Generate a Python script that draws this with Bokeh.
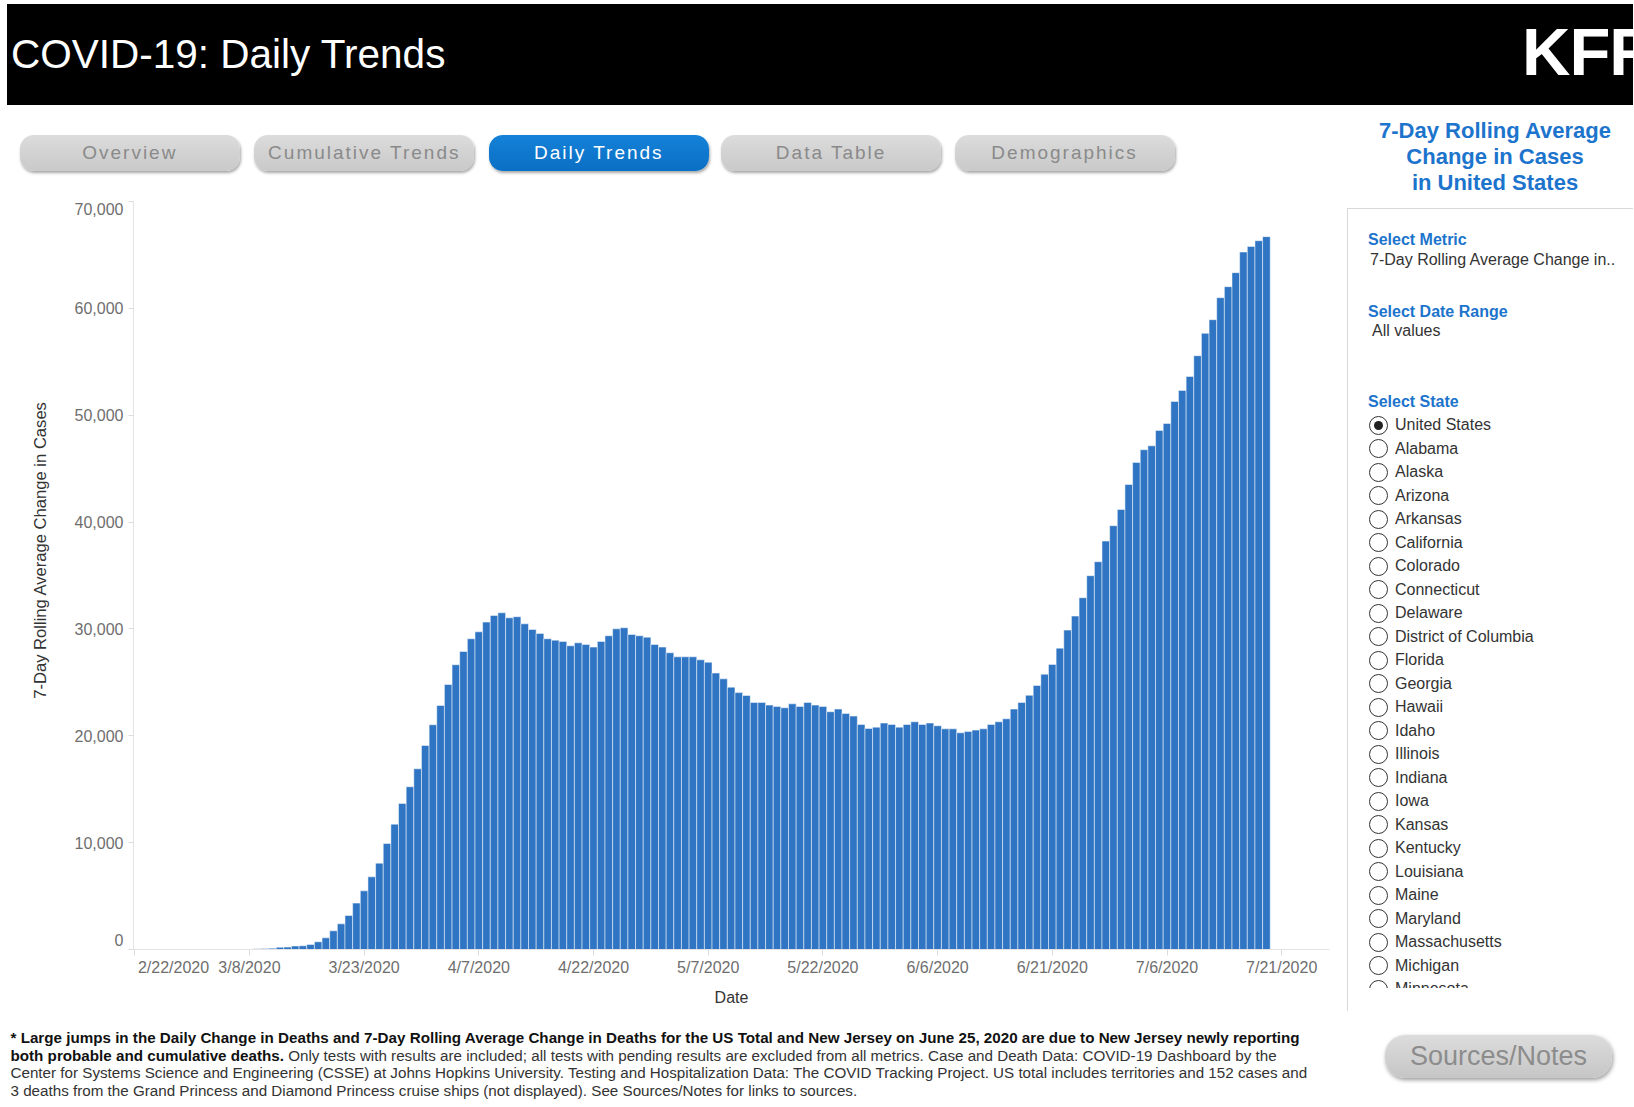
import pandas as pd
from bokeh.plotting import figure
from bokeh.models import ColumnDataSource, Range1d, FixedTicker, Div, LinearAxis, Title
from bokeh.layouts import column, row
from bokeh.embed import file_html
from bokeh.resources import INLINE

# ---------------- data ----------------
dates = pd.date_range("2020-02-22", "2020-07-19", freq="D")

# 7-day rolling average change in cases, 2/22 .. 3/8 (too small to see)
values_feb_mar8 = [1, 1, 2, 2, 3, 3, 4, 5, 6, 8, 11, 15, 21, 28, 38, 52]
# 3/9 .. 7/19
values_mar9_jul19 = [
    70, 95, 120, 210, 225, 330, 350, 470, 720, 1090,
    1750, 2400, 3180, 4340, 5490, 6800, 8080, 9920, 11730, 13670,
    15230, 16910, 19090, 21030, 22840, 24800, 26650, 27890, 29080, 29730,
    30640, 31260, 31510, 31040, 31140, 30480, 29950, 29580, 29080, 28950,
    28830, 28420, 28700, 28550, 28300, 28830, 29360, 30010, 30110, 29480,
    29360, 29230, 28550, 28300, 27770, 27390, 27390, 27390, 27110, 26880,
    25870, 25330, 24550, 24040, 23770, 23120, 23120, 22870, 22750, 22620,
    22990, 22750, 23120, 22870, 22750, 22250, 22500, 22090, 21840, 21060,
    20690, 20810, 21190, 21060, 20810, 21060, 21310, 21060, 21190, 20940,
    20650, 20650, 20280, 20410, 20530, 20650, 21060, 21310, 21590, 22500,
    23120, 23790, 24710, 25760, 26680, 28200, 29890, 31200, 32920, 34980,
    36290, 38220, 39660, 41180, 43520, 45580, 46770, 47140, 48580, 49230,
    51290, 52320, 53630, 55570, 57660, 58940, 61000, 62030, 63340, 65270,
    65800, 66330, 66710,
]
values = values_feb_mar8 + values_mar9_jul19

x_tick_labels = ["2/22/2020", "3/8/2020", "3/23/2020", "4/7/2020", "4/22/2020",
                 "5/7/2020", "5/22/2020", "6/6/2020", "6/21/2020", "7/6/2020", "7/21/2020"]
y_ticks = [0, 10000, 20000, 30000, 40000, 50000, 60000, 70000]
y_tick_labels = ["0", "10,000", "20,000", "30,000", "40,000", "50,000", "60,000", "70,000"]

tabs = ["Overview", "Cumulative Trends", "Daily Trends", "Data Table", "Demographics"]
active_tab = "Daily Trends"
states = ["United States", "Alabama", "Alaska", "Arizona", "Arkansas", "California",
          "Colorado", "Connecticut", "Delaware", "District of Columbia", "Florida",
          "Georgia", "Hawaii", "Idaho", "Illinois", "Indiana", "Iowa", "Kansas",
          "Kentucky", "Louisiana", "Maine", "Maryland", "Massachusetts", "Michigan",
          "Minnesota"]

title = "COVID-19: Daily Trends"
y_title = "7-Day Rolling Average Change in Cases"
x_title = "Date"

day_index = [(d - dates[0]).days for d in dates]
tick_days = [(pd.Timestamp(t) - dates[0]).days for t in x_tick_labels]

src = ColumnDataSource(dict(day=day_index, value=values))

FONT = "Liberation Sans"
BAR = "#2f75c3"
LABEL_GRAY = "#6e6e6e"

# ---------------- chart ----------------
FRAME_W, FRAME_H = 1196, 748
x0, x1 = -0.16, 156.25
y0, y1 = 0, 70000
p = figure(frame_width=FRAME_W, frame_height=FRAME_H,
           x_range=Range1d(x0, x1), y_range=Range1d(y0, y1),
           output_backend="svg", toolbar_location=None,
           min_border_left=126, min_border_right=13, min_border_top=11, min_border_bottom=62,
           outline_line_color=None, background_fill_color="white",
           border_fill_color="white", margin=0)

p.vbar(x="day", top="value", width=1.0, bottom=0, source=src,
       fill_color=BAR, line_color="white", line_width=0.9, line_alpha=0.55)

p.xgrid.visible = False
p.ygrid.visible = False

# axes carrying the line and tick marks (labels hidden)
for ax in (p.xaxis[0], p.yaxis[0]):
    ax.axis_line_color = "#e4e4e4"
    ax.major_tick_line_color = "#dcdcdc"
    ax.major_tick_in = 0
    ax.minor_tick_line_color = None
    ax.major_label_text_font_size = "0px"
    ax.major_label_standoff = 0
p.xaxis.ticker = FixedTicker(ticks=tick_days)
p.xaxis.major_label_overrides = {d: "" for d in tick_days}
p.xaxis.major_tick_out = 6
p.yaxis.ticker = FixedTicker(ticks=y_ticks)
p.yaxis.major_label_overrides = {t: "" for t in y_ticks}
p.yaxis.major_tick_out = 5

# label axes: end labels nudged inside the axis extent, like the original
px_per_day = FRAME_W / (x1 - x0)
px_per_unit = FRAME_H / (y1 - y0)
x_label_pos = list(tick_days)
x_label_pos[0] = round(tick_days[0] + 38.8 / px_per_day, 2)
y_label_pos = list(y_ticks)
y_label_pos[0] = round(y_ticks[0] + 9.7 / px_per_unit)
y_label_pos[-1] = round(y_ticks[-1] - 7.7 / px_per_unit)

xlab = LinearAxis(ticker=FixedTicker(ticks=x_label_pos),
                  major_label_overrides={pos: lab for pos, lab in zip(x_label_pos, x_tick_labels)},
                  axis_line_color=None, major_tick_line_color=None, minor_tick_line_color=None,
                  major_tick_out=0, major_tick_in=0, major_label_standoff=3,
                  major_label_text_font=FONT, major_label_text_font_size="16px",
                  major_label_text_color=LABEL_GRAY,
                  axis_label=x_title, axis_label_text_font=FONT, axis_label_text_font_size="16px",
                  axis_label_text_font_style="normal", axis_label_text_color="#333333",
                  axis_label_standoff=10)
p.add_layout(xlab, "below")

ylab = LinearAxis(ticker=FixedTicker(ticks=y_label_pos),
                  major_label_overrides={pos: lab for pos, lab in zip(y_label_pos, y_tick_labels)},
                  axis_line_color=None, major_tick_line_color=None, minor_tick_line_color=None,
                  major_tick_out=0, major_tick_in=0, major_label_standoff=5,
                  major_label_text_font=FONT, major_label_text_font_size="16px",
                  major_label_text_color=LABEL_GRAY)
p.add_layout(ylab, "left")

# vertical title, anchored at its lower end (250.7 px above the baseline)
p.add_layout(Title(text=y_title, align="left", offset=250.7, vertical_align="middle",
                   standoff=41, text_font=FONT, text_font_size="16.6px",
                   text_font_style="normal", text_color="#333333"), "left")

# ---------------- page pieces ----------------
BASE = "font-family:'Liberation Sans',Arial,sans-serif;"
PAGE_W = 1626
LEFT_W = 1335
SIDE_W = PAGE_W - LEFT_W

header = Div(text=f"""
<div style="position:relative;width:{PAGE_W}px;height:101px;background:#000;overflow:hidden;{BASE}">
  <div style="position:absolute;left:4px;top:30px;font-size:40.5px;line-height:40px;color:#fff;white-space:nowrap;">{title}</div>
  <div style="position:absolute;left:1515px;top:14px;font-size:67px;line-height:67px;font-weight:bold;color:#fff;
       font-family:'Liberation Sans Narrow','Liberation Sans',sans-serif;letter-spacing:-1px;white-space:nowrap;">KFF</div>
</div>""", width=PAGE_W, height=101, margin=0)

btn_x = [12.8, 247.3, 481.8, 714.1, 947.6]
btn_html = ""
for bx, name in zip(btn_x, tabs):
    if name == active_tab:
        bg = "linear-gradient(#1482d8,#0a6fc4)"
        col = "#ffffff"
    else:
        bg = "linear-gradient(#dcdcdc,#c9c9c9)"
        col = "#8a8a8a"
    btn_html += (f'<div style="position:absolute;left:{bx}px;top:30px;width:220px;height:36px;'
                 f'border-radius:14px;background:{bg};box-shadow:1px 2px 3px rgba(0,0,0,0.35);color:{col};'
                 f'font-size:19px;letter-spacing:2px;line-height:36px;text-align:center;white-space:nowrap;">{name}</div>')
buttons = Div(text=f'<div style="position:relative;width:{LEFT_W}px;height:85px;{BASE}">{btn_html}</div>',
              width=LEFT_W, height=85, margin=0)

BLUE = "#1c74cc"
radio_html = ""
for i, s in enumerate(states):
    cy = 320 + 23.5 * i
    dot = ('<div style="position:absolute;left:4px;top:4px;width:9px;height:9px;border-radius:50%;background:#222;"></div>'
           if i == 0 else "")
    radio_html += (f'<div style="position:absolute;left:27px;top:{cy - 9.5:.1f}px;width:17px;height:17px;'
                   f'border:1.3px solid #333;border-radius:50%;box-sizing:content-box;">{dot}</div>'
                   f'<div style="position:absolute;left:53px;top:{cy - 10:.1f}px;line-height:20px;font-size:16px;'
                   f'color:#333;white-space:nowrap;">{s}</div>')

side_title = ["7-Day Rolling Average", "Change in Cases", "in United States"]
title_html = ""
for j, t in enumerate(side_title):
    title_html += (f'<div style="position:absolute;left:153px;top:{13 + 26 * j}px;transform:translateX(-50%);'
                   f'font-size:22px;line-height:26px;font-weight:bold;color:{BLUE};white-space:nowrap;">{t}</div>')


def side_text(x, cy, txt, bold=False):
    w = "bold" if bold else "normal"
    c = BLUE if bold else "#333"
    return (f'<div style="position:absolute;left:{x}px;top:{cy - 10}px;line-height:20px;font-size:16px;'
            f'font-weight:{w};color:{c};white-space:nowrap;">{txt}</div>')


side = Div(text=f"""
<div style="position:relative;width:{SIDE_W}px;height:906px;overflow:hidden;{BASE}">
  {title_html}
  <div style="position:absolute;left:5px;top:103px;width:320px;height:898px;border:1px solid #d8d8d8;"></div>
  {side_text(26, 135, "Select Metric", True)}
  {side_text(28, 154.5, "7-Day Rolling Average Change in..")}
  {side_text(26, 206.5, "Select Date Range", True)}
  {side_text(30, 226, "All values")}
  {side_text(26, 297, "Select State", True)}
  <div style="position:absolute;left:0;top:0;width:{SIDE_W}px;height:883px;overflow:hidden;">{radio_html}</div>
</div>""", width=SIDE_W, height=906, margin=0)

footer = Div(text=f"""
<div style="position:relative;width:{PAGE_W}px;height:86px;{BASE}">
  <div style="position:absolute;left:3.5px;top:18px;font-size:15.2px;line-height:17.6px;color:#333;white-space:nowrap;">
    <b style="color:#111;">* Large jumps in the Daily Change in Deaths and 7-Day Rolling Average Change in Deaths for the US Total and New Jersey on June 25, 2020 are due to New Jersey newly reporting</b><br>
    <b style="color:#111;">both probable and cumulative deaths.</b> Only tests with results are included; all tests with pending results are excluded from all metrics. Case and Death Data: COVID-19 Dashboard by the<br>
    Center for Systems Science and Engineering (CSSE) at Johns Hopkins University. Testing and Hospitalization Data: The COVID Tracking Project. US total includes territories and 152 cases and<br>
    3 deaths from the Grand Princess and Diamond Princess cruise ships (not displayed). See Sources/Notes for links to sources.
  </div>
  <div style="position:absolute;left:1378px;top:24px;width:227px;height:43px;border-radius:20px;
       background:linear-gradient(#dcdcdc,#c6c6c6);box-shadow:1px 2px 4px rgba(0,0,0,0.4);
       color:#8c8c8c;font-size:27px;line-height:43px;text-align:center;white-space:nowrap;">Sources/Notes</div>
</div>""", width=PAGE_W, height=86, margin=0)

layout = column(header,
                row(column(buttons, p, spacing=0), side, spacing=0),
                footer, spacing=0, margin=(4, 0, 0, 7))

open("out.html", "w").write(file_html(layout, INLINE))
